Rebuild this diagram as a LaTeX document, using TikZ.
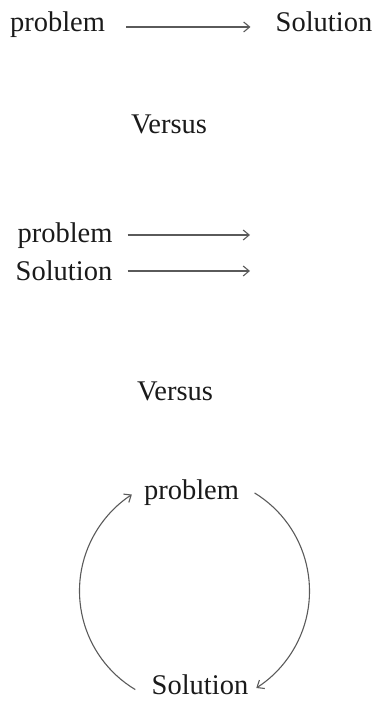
\documentclass[tikz,border=0pt]{standalone}
\usepackage{fontspec}
\setmainfont{Liberation Serif}
\usetikzlibrary{arrows.meta}
\definecolor{linegray}{HTML}{5A5A5A}
\definecolor{txt}{HTML}{1A1A1A}
\tikzset{
  lbl/.style={inner sep=0pt, anchor=base, text=txt, font=\fontsize{28.5}{30}\selectfont},
  arr/.style={draw=linegray, line width=1.1pt, -{Straight Barb[length=6pt,width=10pt]}}
}
\begin{document}
\begin{tikzpicture}[x=1pt,y=1pt]
\useasboundingbox (0,0) rectangle (375,706);
% row 1
\node[lbl] (p1) at (57.5,674) {problem};
\node[lbl] (s1) at (324,674) {Solution};
\draw[arr, shorten <=21pt, shorten >=25pt] ([yshift=5pt]p1.base east) -- ([yshift=5pt]s1.base west);
% versus 1
\node[lbl] (v1) at (169,572) {Versus};
% row 2
\node[lbl] (p2) at (65,463) {problem};
\node[lbl] (s2) at (64,425) {Solution};
\coordinate (e) at (250,0);
\draw[arr, shorten <=15pt] ([yshift=8pt]p2.base east) -- ([yshift=8pt]p2.base east -| e);
\draw[arr, shorten <=15pt] ([yshift=10pt]s2.base east) -- ([yshift=10pt]s2.base east -| e);
% versus 2
\node[lbl] (v2) at (175,305) {Versus};
% cycle
\node[lbl] (p3) at (191.5,206) {problem};
\node[lbl] (s3) at (200,11) {Solution};
\coordinate (c) at (194.5,115);
\draw[arr] (c) ++(239:115) arc[start angle=239, end angle=123, radius=115];
\draw[arr] (c) ++(58.5:115) arc[start angle=58.5, end angle=-57.5, radius=115];
\end{tikzpicture}
\end{document}
